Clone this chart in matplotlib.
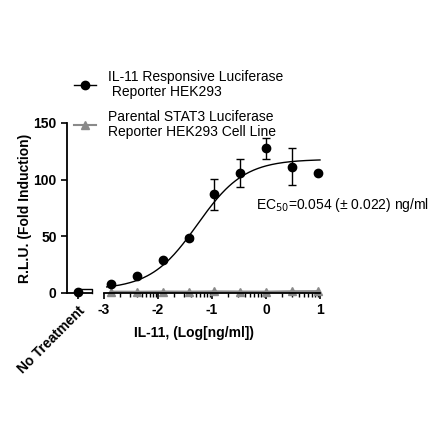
import numpy as np
import matplotlib
matplotlib.use('Agg')
import matplotlib.pyplot as plt

plt.rcParams['font.family'] = ['Liberation Sans', 'DejaVu Sans']

# Data: log10 IL-11 concentration (ng/ml)
log_conc = [-2.863, -2.386, -1.908, -1.431, -0.954, -0.477, 0.0, 0.477, 0.954]
il11_resp = [8.0, 15.3, 28.9, 48.7, 87.0, 105.6, 127.7, 111.5, 106.0]
il11_err = [1.0, 1.0, 1.0, 1.5, 14.0, 12.4, 9.5, 16.0, 0.0]
parental = [1.2, 1.1, 1.3, 1.2, 1.4, 1.3, 1.2, 1.5, 1.6]
parental_err = [0.8, 0.8, 0.9, 0.8, 1.0, 0.9, 0.9, 1.0, 1.1]

# No treatment control
nt_resp = 1.0
nt_band_top = 3.5

# 4PL fit parameters
fit_bottom = 3.0
fit_top = 118.0
fit_logec50 = -1.27
fit_hill = 1.0

fig = plt.figure(figsize=(4.4, 4.4), dpi=100)
W = 440.0
ax0 = fig.add_axes([67 / W, (440 - 293) / W, 25 / W, 170 / W])
ax1 = fig.add_axes([104 / W, (440 - 293) / W, 216 / W, 170 / W])

for ax in (ax0, ax1):
    ax.set_ylim(0, 150)
    for s in ['top', 'right']:
        ax.spines[s].set_visible(False)
    ax.spines['bottom'].set_linewidth(1.3)
    ax.spines['left'].set_linewidth(1.3)
    ax.tick_params(direction='out', width=1.2, length=4.5, labelsize=10, pad=3)
    ax.patch.set_alpha(0)

# No treatment axis
ax0.set_xlim(0, 1)
ax0.plot([0.44], [nt_resp], 'o', color='black', ms=6, clip_on=False)
ax0.plot([0.44, 1, 1], [nt_band_top, nt_band_top, 0], color='black', lw=1, clip_on=False)
ax0.set_xticks([0.44])
ax0.set_xticklabels(['No Treatment'], rotation=45, ha='right', rotation_mode='anchor',
                    fontweight='bold')
ax0.set_yticks([0, 50, 100, 150])
ax0.set_yticklabels(['0', '50', '100', '150'], fontweight='bold')

# Main axis
ax1.spines['left'].set_visible(False)
ax1.set_xlim(-3, 1)
ax1.set_yticks([])
ax1.set_xticks([-3, -2, -1, 0, 1])
ax1.set_xticklabels(['-3', '-2', '-1', '0', '1'], fontweight='bold')
minor = [d + np.log10(k) for d in range(-3, 1) for k in range(2, 10)]
ax1.set_xticks(minor, minor=True)
ax1.tick_params(which='minor', direction='out', width=1.0, length=2.8)

# Parental line
p_lo = [v - e for v, e in zip(parental, parental_err)]
p_hi = [v + e for v, e in zip(parental, parental_err)]
ax1.fill_between(log_conc, p_lo, p_hi, color='#c8c8c8', lw=0, clip_on=False)
ax1.plot(log_conc, parental, '-^', color='#8a8a8a', lw=1.5, ms=5.5, clip_on=False,
         label='Parental STAT3 Luciferase\nReporter HEK293 Cell Line')

# Fit curve
xs = np.linspace(-2.95, 1.0, 200)
ys = fit_bottom + (fit_top - fit_bottom) / (1 + 10 ** ((fit_logec50 - xs) * fit_hill))
ax1.plot(xs, ys, color='black', lw=1.0, clip_on=False)

ax1.errorbar(log_conc, il11_resp, yerr=il11_err, fmt='o', color='black', ms=6,
             elinewidth=1.0, capsize=3, capthick=1.0, clip_on=False, zorder=5)
h1, = ax1.plot([], [], '-o', color='black', lw=1.0, ms=6,
               label='IL-11 Responsive Luciferase\n Reporter HEK293')

ax1.text(-0.18, 78, 'EC$_{50}$=0.054 (± 0.022) ng/ml', fontsize=10, ha='left', va='center')

# Labels
fig.text(194.5 / W, 1 - 333 / W, 'IL-11, (Log[ng/ml])', ha='center', va='center',
         fontsize=10, fontweight='bold')
fig.text(25 / W, 1 - 208 / W, 'R.L.U. (Fold Induction)', ha='center', va='center',
         rotation=90, fontsize=10, fontweight='bold')

handles, labels = ax1.get_legend_handles_labels()
order = [1, 0]
leg = fig.legend([handles[i] for i in order], [labels[i] for i in order],
                 loc='upper left', bbox_to_anchor=(68 / W, 1 - 64 / W), frameon=False,
                 fontsize=10, handlelength=1.6, labelspacing=0.8, handletextpad=0.85,
                 borderaxespad=0.0)
for t in leg.get_texts():
    t.set_linespacing(1.12)

fig.savefig('out.png', dpi=100)
